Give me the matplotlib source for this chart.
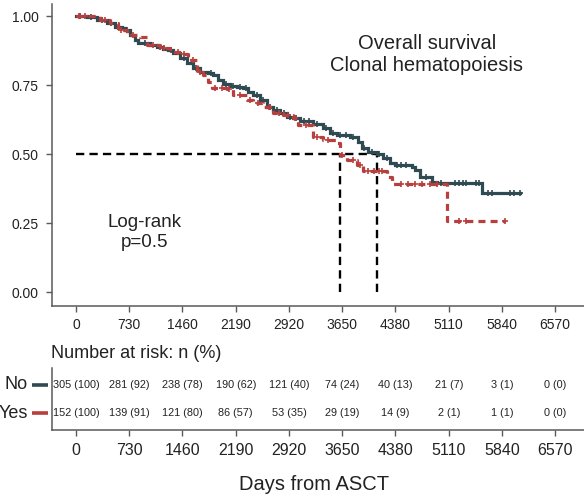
import matplotlib
matplotlib.use("Agg")
import matplotlib.pyplot as plt
import matplotlib.transforms as mtransforms
import numpy as np

# ---------------- data ----------------
no_times = [0, 146, 283, 420, 535, 626, 672, 740, 809, 854, 923, 1014, 1106,
            1197, 1266, 1334, 1426, 1517, 1609, 1700, 1814, 1883, 1951, 2020,
            2111, 2203, 2294, 2362, 2431, 2523, 2614, 2705, 2797, 2888, 2979,
            3071, 3254, 3391, 3482, 3574, 3757, 3871, 3917, 4008, 4122, 4213,
            4305, 4373, 4602, 4648, 4716, 4877, 4945, 5562]
no_surv = [1.0, 0.995, 0.986, 0.976, 0.961, 0.955, 0.949, 0.931, 0.913, 0.903,
           0.901, 0.895, 0.889, 0.879, 0.877, 0.865, 0.847, 0.829, 0.810, 0.798,
           0.792, 0.786, 0.768, 0.754, 0.746, 0.742, 0.738, 0.726, 0.714, 0.696,
           0.671, 0.659, 0.647, 0.635, 0.629, 0.621, 0.609, 0.593, 0.575, 0.569,
           0.560, 0.545, 0.521, 0.508, 0.500, 0.484, 0.466, 0.460, 0.454, 0.442,
           0.418, 0.400, 0.394, 0.359]
no_end = 6087
no_censor = [60, 200, 350, 480, 700, 950, 1150, 1300, 1480, 1650, 1850, 2060,
             2150, 2250, 2330, 2480, 2560, 2660, 2750, 2850, 2930, 3020, 3120,
             3200, 3300, 3430, 3530, 3620, 3700, 3800, 3950, 4060, 4150, 4260,
             4400, 4450, 4520, 4800, 5000, 5200, 5250, 5300, 5350, 5480, 5520,
             5650, 5700, 5950, 6000, 6087]

yes_times = [0, 329, 466, 580, 695, 877, 969, 1152, 1289, 1334, 1449, 1540,
             1655, 1746, 1814, 1860, 2066, 2157, 2340, 2431, 2568, 2705, 2843,
             2979, 3048, 3254, 3391, 3574, 3620, 3711, 3849, 3940, 4260, 4328,
             5082]
yes_surv = [1.0, 0.986, 0.973, 0.949, 0.931, 0.923, 0.895, 0.883, 0.879, 0.871,
            0.862, 0.841, 0.798, 0.786, 0.762, 0.738, 0.734, 0.714, 0.696, 0.684,
            0.669, 0.650, 0.641, 0.629, 0.605, 0.563, 0.551, 0.539, 0.496, 0.478,
            0.460, 0.440, 0.418, 0.390, 0.258]
yes_end = 5882
yes_censor = [40, 120, 400, 620, 780, 1050, 1200, 1400, 1480, 1600, 1700, 1900,
              2000, 2100, 2250, 2380, 2500, 2650, 2780, 2900, 3000, 3150, 3300,
              3450, 3650, 3800, 3900, 4000, 4080, 4150, 4200, 4450, 4550, 4650,
              4750, 4850, 4950, 5250, 5350, 5882]

no_median = 4127
yes_median = 3619

risk_times = [0, 730, 1460, 2190, 2920, 3650, 4380, 5110, 5840, 6570]
risk_no = ["305 (100)", "281 (92)", "238 (78)", "190 (62)", "121 (40)",
           "74 (24)", "40 (13)", "21 (7)", "3 (1)", "0 (0)"]
risk_yes = ["152 (100)", "139 (91)", "121 (80)", "86 (57)", "53 (35)",
            "29 (19)", "14 (9)", "2 (1)", "1 (1)", "0 (0)"]
y_ticks = [0.0, 0.25, 0.5, 0.75, 1.0]
y_ticklabels = ["0.00", "0.25", "0.50", "0.75", "1.00"]

# ---------------- style ----------------
C_NO = "#2F4A51"
C_YES = "#B7403E"
SPINE = "#5a5a5a"
TXT = "#222222"
plt.rcParams["font.family"] = ["Liberation Sans", "DejaVu Sans"]

W, H = 584, 499
fig = plt.figure(figsize=(W / 100, H / 100), dpi=100)


def px_axes(left, top, right, bottom):
    return fig.add_axes([left / W, 1 - bottom / H, (right - left) / W, (bottom - top) / H])


def surv_at(times, surv, t):
    idx = np.searchsorted(times, t, side="right") - 1
    return np.asarray(surv)[idx]


ax = px_axes(52, 3.6, 584, 305.8)
ax.set_xlim(-329, 6965)
ax.set_ylim(-0.05, 1.045)

# median lines
dash_k = (0, (3.5, 2.2))
ax.plot([0, no_median], [0.5, 0.5], color="black", lw=1.7, ls=dash_k, zorder=2)
ax.plot([yes_median, yes_median], [0, 0.5], color="black", lw=1.7, ls=dash_k, zorder=2)
ax.plot([no_median, no_median], [0, 0.5], color="black", lw=1.7, ls=dash_k, zorder=2)

# curves
ax.step(no_times + [no_end], no_surv + [no_surv[-1]], where="post",
        color=C_NO, lw=2.3, solid_joinstyle="miter", zorder=3)
ax.step(yes_times + [yes_end], yes_surv + [yes_surv[-1]], where="post",
        color=C_YES, lw=2.3, linestyle=(0, (2.2, 1.6)), zorder=4)
ax.plot(no_censor, surv_at(no_times, no_surv, no_censor), ls="none",
        marker="+", ms=5, mew=1.2, color=C_NO, zorder=3)
ax.plot(yes_censor, surv_at(yes_times, yes_surv, yes_censor), ls="none",
        marker="+", ms=5, mew=1.2, color=C_YES, zorder=4)

ax.set_xticks(risk_times)
ax.set_xticklabels([str(t) for t in risk_times], fontsize=10)
ax.set_yticks(y_ticks)
ax.set_yticklabels(y_ticklabels, fontsize=10)
for s in ["top", "right"]:
    ax.spines[s].set_visible(False)
for s in ["left", "bottom"]:
    ax.spines[s].set_color(SPINE)
    ax.spines[s].set_linewidth(1.1)
ax.tick_params(axis="both", length=4.5, width=1.0, color=SPINE, colors=TXT, pad=4)
ax.tick_params(axis="y", pad=5)

ax.text(4812, 0.859, "Overall survival\nClonal hematopoiesis", ha="center",
        va="center", fontsize=14.5, color=TXT, linespacing=1.2)
ax.text(946, 0.215, "Log-rank\np=0.5", ha="center", va="center",
        fontsize=13.5, color=TXT, linespacing=1.2)

# ---------------- risk table ----------------
rax = px_axes(52, 368, 584, 430)
rax.set_xlim(-329, 6965)
rax.set_ylim(-0.607, 1.607)
for t, a, b in zip(risk_times, risk_no, risk_yes):
    rax.text(t, 1, a, ha="center", va="center", fontsize=7.8, color=TXT)
    rax.text(t, 0, b, ha="center", va="center", fontsize=7.8, color=TXT)
rax.set_xticks(risk_times)
rax.set_xticklabels([str(t) for t in risk_times], fontsize=11.5)
rax.set_yticks([])
for s in ["top", "right"]:
    rax.spines[s].set_visible(False)
for s in ["left", "bottom"]:
    rax.spines[s].set_color(SPINE)
    rax.spines[s].set_linewidth(1.1)
rax.tick_params(axis="x", length=4.5, width=1.0, color=SPINE, colors=TXT, pad=5)

trans = mtransforms.blended_transform_factory(rax.transAxes, rax.transData)
for yv, lab, col in [(1, "No", C_NO), (0, "Yes", C_YES)]:
    rax.text(-0.045, yv, lab, transform=trans, ha="right", va="center",
             fontsize=13, color=TXT, clip_on=False)
    rax.plot([-0.038, -0.008], [yv, yv], transform=trans, color=col, lw=2.6,
             clip_on=False, solid_capstyle="butt")

rax.text(-0.002, 1.24, "Number at risk: n (%)", transform=rax.transAxes,
         ha="left", va="center", fontsize=13, color=TXT)

fig.text(314 / W, 1 - 484 / H, "Days from ASCT", ha="center", va="center",
         fontsize=14.5, color=TXT)

fig.savefig("out.png", dpi=100)
